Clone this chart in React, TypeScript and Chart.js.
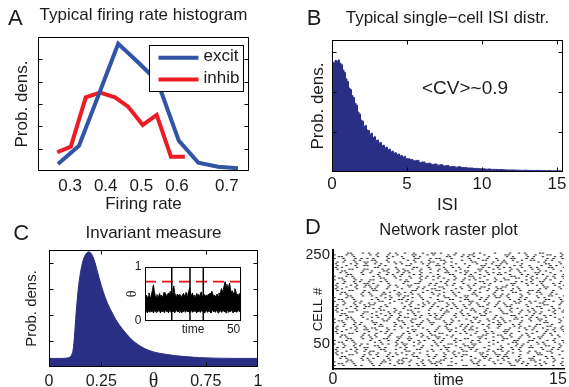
import React, { useEffect, useRef } from 'react';
import { Chart, registerables } from 'chart.js';

Chart.register(...registerables);

const SANS = "'Liberation Sans', Arial, Helvetica, sans-serif";
const SERIF = "'Liberation Serif', 'Times New Roman', serif";
const INK = '#1b1b1b';
const NAVY = '#2a2e84';
const BLUE = '#3254a6';
const RED = '#ec1c24';

Chart.defaults.font.family = SANS;
Chart.defaults.color = INK;

// ---------------- Panel A : firing rate histogram ----------------
const rateTickValues = [0.3, 0.4, 0.5, 0.6, 0.74];
const rateTickLabels = ['0.3', '0.4', '0.5', '0.6', '0.7'];
const seriesLabels = ['excit', 'inhib'];
const excitRates = [0.266, 0.325, 0.38, 0.435, 0.49, 0.545, 0.605, 0.66, 0.715, 0.771];
const excitDensity = [0.31, 1.13, 3.4, 5.7, 4.88, 4.02, 1.36, 0.37, 0.19, 0.12];
const inhibRates = [0.264, 0.302, 0.344, 0.384, 0.426, 0.463, 0.504, 0.543, 0.583, 0.622];
const inhibDensity = [0.84, 1.09, 3.3, 3.51, 3.3, 2.88, 2.06, 2.51, 0.64, 0.64];

// ---------------- Panel B : ISI distribution ----------------
const isiTickValues = [0, 5, 10, 15];
const isiTickLabels = ['0', '5', '10', '15'];
// bins of width 0.1 on [0,5)
const isiFine = [
  2.6, 2.74, 2.79, 2.76, 2.8, 2.72, 2.68, 2.55, 2.49, 2.33,
  2.26, 2.1, 2.06, 1.91, 1.86, 1.72, 1.67, 1.5, 1.45, 1.3,
  1.27, 1.14, 1.16, 1.05, 1.04, 0.94, 0.97, 0.86, 0.88, 0.79,
  0.8, 0.72, 0.74, 0.66, 0.67, 0.6, 0.62, 0.55, 0.57, 0.5,
  0.52, 0.47, 0.48, 0.43, 0.45, 0.4, 0.41, 0.37, 0.39, 0.34,
];
// bins of width 0.2 on [5,15.4)
const isiCoarse = [
  0.33, 0.31, 0.28, 0.29, 0.24, 0.25, 0.21, 0.22, 0.19, 0.2,
  0.17, 0.18, 0.15, 0.16, 0.13, 0.14, 0.12, 0.13, 0.11, 0.11,
  0.1, 0.1, 0.09, 0.09, 0.08, 0.08, 0.07, 0.075, 0.065, 0.065,
  0.06, 0.06, 0.055, 0.05, 0.05, 0.05, 0.045, 0.045, 0.04, 0.045,
  0.04, 0.04, 0.035, 0.04, 0.035, 0.035, 0.03, 0.035, 0.03, 0.03,
  0.03, 0.03,
];
const cvText = '<CV>~0.9';
const cvPos = { x: 8.87, y: 2.09 };

// ---------------- Panel C : invariant measure ----------------
const thetaTickValues = [0, 0.25, 0.75, 1];
const thetaTickLabels = ['0', '0.25', '0.75', '1'];
const thetaValues = [
  0, 0.05, 0.08, 0.1, 0.11, 0.115, 0.12, 0.125, 0.13, 0.14,
  0.15, 0.16, 0.17, 0.18, 0.19, 0.2, 0.21, 0.22, 0.23, 0.24,
  0.25, 0.26, 0.28, 0.3, 0.32, 0.34, 0.37, 0.4, 0.43, 0.46,
  0.5, 0.55, 0.6, 0.65, 0.72, 0.8, 0.9, 1.0,
];
const thetaDensity = [
  0.33, 0.33, 0.34, 0.38, 0.5, 0.65, 1.0, 1.55, 2.1, 3.0,
  3.6, 4.0, 4.25, 4.38, 4.43, 4.38, 4.25, 4.02, 3.72, 3.42,
  3.14, 2.88, 2.45, 2.12, 1.82, 1.58, 1.28, 1.02, 0.84, 0.7,
  0.58, 0.5, 0.44, 0.4, 0.36, 0.34, 0.33, 0.33,
];

// inset: theta trace (envelope per 0.5 time unit)
const insetStep = 0.5;
const insetHigh = [
  0.44, 0.48, 0.41, 0.46, 0.52, 0.45, 0.43, 0.5, 0.58, 0.67,
  0.55, 0.47, 0.44, 0.49, 0.42, 0.46, 0.51, 0.45, 0.48, 0.43,
  0.47, 0.53, 0.46, 0.5, 0.44, 0.49, 0.52, 0.47, 0.55, 0.48,
  0.5, 0.58, 0.65, 0.52, 0.47, 0.45, 0.5, 0.46, 0.49, 0.44,
  0.47, 0.43, 0.48, 0.51, 0.45, 0.49, 0.53, 0.46, 0.5, 0.55,
  0.62, 0.5, 0.47, 0.52, 0.45, 0.48, 0.44, 0.47, 0.51, 0.46,
  0.49, 0.45, 0.5, 0.54, 0.47, 0.43, 0.46, 0.49, 0.44, 0.48,
  0.45, 0.5, 0.47, 0.52, 0.49, 0.55, 0.5, 0.46, 0.48, 0.44,
  0.47, 0.5, 0.45, 0.52, 0.48, 0.55, 0.6, 0.53, 0.58, 0.66,
  0.73, 0.62, 0.68, 0.57, 0.64, 0.7, 0.59, 0.52, 0.56, 0.49,
  0.53, 0.6, 0.55, 0.48, 0.5, 0.46, 0.51, 0.47,
];
const insetLow = [
  0.17, 0.2, 0.15, 0.19, 0.18, 0.16, 0.21, 0.17, 0.19, 0.15,
  0.18, 0.2, 0.16, 0.19, 0.17, 0.21, 0.18, 0.15, 0.19, 0.17,
  0.2, 0.16, 0.18, 0.21, 0.17, 0.19, 0.15, 0.18, 0.2, 0.16,
  0.19, 0.17, 0.2, 0.15, 0.18, 0.21, 0.17, 0.19, 0.16, 0.2,
  0.18, 0.15, 0.19, 0.17, 0.21, 0.16, 0.18, 0.2, 0.17, 0.19,
  0.15, 0.18, 0.2, 0.16, 0.19, 0.17, 0.21, 0.18, 0.15, 0.19,
  0.17, 0.2, 0.16, 0.18, 0.21, 0.17, 0.19, 0.15, 0.18, 0.2,
  0.16, 0.19, 0.17, 0.2, 0.15, 0.18, 0.21, 0.17, 0.19, 0.16,
  0.2, 0.18, 0.15, 0.19, 0.17, 0.21, 0.16, 0.18, 0.2, 0.17,
  0.19, 0.15, 0.18, 0.2, 0.16, 0.19, 0.17, 0.21, 0.18, 0.15,
  0.19, 0.17, 0.2, 0.16, 0.18, 0.21, 0.17, 0.19,
];
const spikeTimes = [15.1, 25.4, 32.9];
const thresholdLevel = 0.73;
const resetLevel = 0.275;
const insetTimeMax = 54.2;

// ---------------- Panel D : raster ----------------
// each row = a group of cells (bottom row first); each char = a 0.2 time bin, 'x' = spike
const rasterRows = [
  'x..x...x.x. ..x.x....x. ...x..x.x.. .x...xx...x x...x.x.... ....xx...x. .x.x...x..x',
  '.xx...x.... .x..x..x..x x....x.x..x x.x....x... ..xx.....x. x..x...x.x. ..x.x....x.',
  'x...x.x.... .x...xx...x .x.x...x..x .xx...x.... ..x.x....x. ...x..x.x.. .x..x..x..x',
  '....xx...x. x....x.x..x x..x...x.x. ..xx.....x. .x..x..x..x .x...xx...x x.x....x...',
  '..x.x....x. x.x....x... .xx...x.... x...x.x.... ...x..x.x.. .x.x...x..x x....x.x..x',
  '..xx.....x. ...x..x.x.. ....xx...x. x..x...x.x. .x...xx...x .xx...x.... x...x.x....',
  '.x...xx...x .x.x...x..x ..x.x....x. .x..x..x..x x....x.x..x x.x....x... ..xx.....x.',
  'x.x....x... x..x...x.x. x...x.x.... ...x..x.x.. ....xx...x. ..x.x....x. .xx...x....',
  '.x..x..x..x .xx...x.... ..xx.....x. x....x.x..x x..x...x.x. .x.x...x..x .x...xx...x',
  'x....x.x..x ....xx...x. .x...xx...x ..x.x....x. .x.x...x..x x...x.x.... ...x..x.x..',
  '.x.x...x..x x...x.x.... x.x....x... ....xx...x. .xx...x.... .x..x..x..x x..x...x.x.',
  '...x..x.x.. ..xx.....x. .x..x..x..x .x.x...x..x x.x....x... x....x.x..x ....xx...x.',
  'x..x...x.x. x....x.x..x .xx...x.... .x...xx...x ..xx.....x. ...x..x.x.. ..x.x....x.',
  '.xx...x.... ..x.x....x. x...x.x.... x.x....x... .x..x..x..x ....xx...x. .x.x...x..x',
  'x...x.x.... .x..x..x..x ...x..x.x.. x..x...x.x. ..x.x....x. .x...xx...x x....x.x..x',
  '....xx...x. .x...xx...x ..xx.....x. .x.x...x..x x...x.x.... .xx...x.... x.x....x...',
  '..x.x....x. .x.x...x..x x..x...x.x. .xx...x.... ....xx...x. .x..x..x..x ..xx.....x.',
  '..xx.....x. x.x....x... x....x.x..x x...x.x.... .x...xx...x x..x...x.x. ...x..x.x..',
  '.x...xx...x ...x..x.x.. .x.x...x..x ..xx.....x. x..x...x.x. ..x.x....x. x...x.x....',
  'x.x....x... x...x.x.... ..x.x....x. x....x.x..x ...x..x.x.. .xx...x.... .x..x..x..x',
  '.x..x..x..x x..x...x.x. ....xx...x. .x...xx...x .xx...x.... ..xx.....x. x....x.x..x',
  'x....x.x..x .xx...x.... x.x....x... .x..x..x..x .x.x...x..x ...x..x.x.. x..x...x.x.',
  '.x.x...x..x ....xx...x. x...x.x.... ..x.x....x. x.x....x... x....x.x..x .x...xx...x',
  '...x..x.x.. ..x.x....x. .x...xx...x ....xx...x. x....x.x..x x...x.x.... .xx...x....',
  'x..x...x.x. ..xx.....x. .x..x..x..x x...x.x.... ..x.x....x. x.x....x... ....xx...x.',
  '.xx...x.... .x...xx...x x..x...x.x. ...x..x.x.. .x..x..x..x .x.x...x..x ..x.x....x.',
  'x...x.x.... x....x.x..x ....xx...x. .xx...x.... x..x...x.x. .x...xx...x ..xx.....x.',
  '....xx...x. .x.x...x..x .xx...x.... x.x....x... ..xx.....x. x....x.x..x .x..x..x..x',
  '..x.x....x. ...x..x.x.. x....x.x..x .x.x...x..x .x...xx...x ....xx...x. x...x.x....',
  '..xx.....x. .x..x..x..x ..x.x....x. x..x...x.x. x...x.x.... .xx...x.... x.x....x...',
  '.x...xx...x x..x...x.x. x...x.x.... ....xx...x. ...x..x.x.. .x..x..x..x .x.x...x..x',
  'x.x....x... ....xx...x. ..xx.....x. ..x.x....x. .xx...x.... x..x...x.x. x....x.x..x',
  '.x..x..x..x ..x.x....x. .x...xx...x ...x..x.x.. x.x....x... x...x.x.... x..x...x.x.',
  'x....x.x..x x...x.x.... .x.x...x..x .x..x..x..x ....xx...x. ..xx.....x. .xx...x....',
  '.x.x...x..x .xx...x.... ...x..x.x.. x....x.x..x .x..x..x..x ..x.x....x. ....xx...x.',
  '...x..x.x.. x.x....x... x..x...x.x. x...x.x.... .x.x...x..x .x...xx...x ..xx.....x.',
  'x..x...x.x. ....xx...x. ..x.x....x. ..xx.....x. .xx...x.... x....x.x..x .x..x..x..x',
  '.xx...x.... .x.x...x..x x.x....x... .x...xx...x x...x.x.... ...x..x.x.. ....xx...x.',
  'x...x.x.... ...x..x.x.. .x..x..x..x ....xx...x. x....x.x..x x..x...x.x. ..x.x....x.',
  '....xx...x. .x..x..x..x .xx...x.... .x.x...x..x x..x...x.x. x.x....x... .x...xx...x',
  '..x.x....x. .x...xx...x x...x.x.... x.x....x... ..xx.....x. .x.x...x..x ...x..x.x..',
  '..xx.....x. x....x.x..x .x.x...x..x ...x..x.x.. ..x.x....x. ....xx...x. .xx...x....',
  '.x...xx...x ..xx.....x. ....xx...x. .xx...x.... .x.x...x..x .x..x..x..x x.x....x...',
  'x.x....x... .xx...x.... x....x.x..x x..x...x.x. .x..x..x..x x...x.x.... ..x.x....x.',
  '.x..x..x..x .x.x...x..x ...x..x.x.. ..xx.....x. .x...xx...x .xx...x.... ....xx...x.',
  'x....x.x..x x..x...x.x. ..xx.....x. x...x.x.... x.x....x... ..x.x....x. .x.x...x..x',
  '.x.x...x..x x.x....x... .x...xx...x .x..x..x..x ...x..x.x.. ....xx...x. x..x...x.x.',
  '...x..x.x.. x...x.x.... .xx...x.... ..x.x....x. ....xx...x. x....x.x..x ..xx.....x.',
  'x..x...x.x. .xx...x.... x.x....x... x....x.x..x .x.x...x..x ..xx.....x. x...x.x....',
  '.xx...x.... ....xx...x. ...x..x.x.. .x.x...x..x ..x.x....x. .x...xx...x .x..x..x..x',
  'x...x.x.... ..x.x....x. x..x...x.x. x.x....x... .xx...x.... ....xx...x. x....x.x..x',
  '....xx...x. ...x..x.x.. x...x.x.... .x...xx...x .x..x..x..x x..x...x.x. .x.x...x..x',
  '..x.x....x. .x..x..x..x .x.x...x..x ....xx...x. x..x...x.x. x.x....x... .xx...x....',
  '..xx.....x. .x...xx...x .xx...x.... .x..x..x..x x...x.x.... ...x..x.x.. ..x.x....x.',
  '.x...xx...x x....x.x..x .x..x..x..x ..x.x....x. ....xx...x. x...x.x.... x.x....x...',
  'x.x....x... ..xx.....x. ....xx...x. ...x..x.x.. x....x.x..x .x.x...x..x .x...xx...x',
  '.x..x..x..x x...x.x.... ..xx.....x. .xx...x.... .x...xx...x x....x.x..x ...x..x.x..',
  'x....x.x..x ..x.x....x. x..x...x.x. .x.x...x..x ...x..x.x.. x.x....x... ....xx...x.',
  '.x.x...x..x x..x...x.x. x....x.x..x x...x.x.... ..xx.....x. .xx...x.... ..x.x....x.',
  '...x..x.x.. .xx...x.... ..x.x....x. ..xx.....x. .x...xx...x .x..x..x..x x...x.x....',
  'x..x...x.x. x.x....x... .x...xx...x .xx...x.... .x..x..x..x ....xx...x. x....x.x..x',
  '.xx...x.... ...x..x.x.. x...x.x.... ....xx...x. x.x....x... ..x.x....x. x..x...x.x.',
  'x...x.x.... .x.x...x..x ....xx...x. x....x.x..x .xx...x.... ..xx.....x. .x...xx...x',
  '....xx...x. x..x...x.x. .x..x..x..x x.x....x... ..x.x....x. ...x..x.x.. ..xx.....x.',
];
const rasterBin = 0.2;
const rasterCellsPerRow = 4;
const rasterTickValues = [0, 15];
const rasterTickLabels = ['0', '15'];
const cellTickValues = [50, 250];
const cellTickLabels = ['50', '250'];

// ---------------- helpers ----------------
const setTicks = (vals: number[]) => (scale: any) => {
  scale.ticks = vals.map((v) => ({ value: v }));
};
const zeroPad = (s: any) => {
  s.paddingLeft = 0;
  s.paddingRight = 0;
  s.paddingTop = 0;
  s.paddingBottom = 0;
};
const fixWidth = (w: number) => (s: any) => {
  s.width = w;
  zeroPad(s);
};
const fixHeight = (h: number) => (s: any) => {
  s.height = h;
  zeroPad(s);
};
const noGrid = { display: false, drawTicks: false };
const f = (size: number, family: string = SANS) => ({ size, family, weight: 'normal' });

const matlabBox = {
  id: 'matlabBox',
  afterDatasetsDraw(chart: any, _a: any, o: any) {
    if (!o || !o.on) return;
    const { ctx, chartArea, scales } = chart;
    const l = Math.round(chartArea.left) + 0.5;
    const r = Math.round(chartArea.right) - 0.5;
    const t = Math.round(chartArea.top) + 0.5;
    const b = Math.round(chartArea.bottom) - 0.5;
    const len = o.len || 4;
    ctx.save();
    ctx.strokeStyle = '#000';
    ctx.lineWidth = 1;
    ctx.strokeRect(l, t, r - l, b - t);
    ctx.beginPath();
    if (o.yTicks) {
      scales.y.ticks.forEach((tk: any) => {
        const p = Math.round(scales.y.getPixelForValue(tk.value)) + 0.5;
        if (p <= t + 1 || p >= b - 1) return;
        ctx.moveTo(l, p);
        ctx.lineTo(l + len, p);
        ctx.moveTo(r, p);
        ctx.lineTo(r - len, p);
      });
    }
    if (o.xTicks) {
      scales.x.ticks.forEach((tk: any) => {
        const p = Math.round(scales.x.getPixelForValue(tk.value)) + 0.5;
        if (p <= l + 1 || p >= r - 1) return;
        ctx.moveTo(p, t);
        ctx.lineTo(p, t + len);
        ctx.moveTo(p, b);
        ctx.lineTo(p, b - len);
      });
    }
    ctx.stroke();
    ctx.restore();
  },
};

const boxLegend = {
  id: 'boxLegend',
  afterDatasetsDraw(chart: any, _a: any, o: any) {
    if (!o || !o.on) return;
    const { ctx, chartArea } = chart;
    const x0 = Math.round(chartArea.right - o.right - o.width) + 0.5;
    const y0 = Math.round(chartArea.top + o.top) + 0.5;
    ctx.save();
    ctx.fillStyle = '#fff';
    ctx.fillRect(x0, y0, o.width, o.height);
    ctx.strokeStyle = '#000';
    ctx.lineWidth = 1;
    ctx.strokeRect(x0, y0, o.width, o.height);
    chart.data.datasets.forEach((ds: any, i: number) => {
      const y = y0 + o.rowTop + i * o.rowGap;
      ctx.strokeStyle = ds.borderColor;
      ctx.lineWidth = ds.borderWidth;
      ctx.lineCap = 'butt';
      ctx.beginPath();
      ctx.moveTo(x0 + o.lineStart, y);
      ctx.lineTo(x0 + o.lineStart + o.lineLen, y);
      ctx.stroke();
      ctx.fillStyle = INK;
      ctx.font = `${o.fontSize}px ${SANS}`;
      ctx.textAlign = 'left';
      ctx.textBaseline = 'middle';
      ctx.fillText(ds.label, x0 + o.textStart, y - 1);
    });
    ctx.restore();
  },
};

const textMark = {
  id: 'textMark',
  afterDatasetsDraw(chart: any, _a: any, o: any) {
    if (!o || !o.text) return;
    const { ctx, scales } = chart;
    ctx.save();
    ctx.font = `${o.size}px ${SANS}`;
    ctx.fillStyle = INK;
    ctx.textAlign = 'center';
    ctx.textBaseline = 'middle';
    ctx.fillText(o.text, scales.x.getPixelForValue(o.x), scales.y.getPixelForValue(o.y));
    ctx.restore();
  },
};

const baseOptions = (padding: any, title: any) => ({
  responsive: false,
  animation: false,
  devicePixelRatio: 1,
  events: [],
  layout: { padding },
  plugins: {
    legend: { display: false },
    tooltip: { enabled: false },
    title: { display: true, fullSize: false, color: INK, ...title },
  },
});

// ---------------- configs ----------------
const configA = () => {
  const opts: any = baseOptions(
    { left: 8, top: 5.3, right: 41, bottom: 1 },
    { text: 'Typical firing rate histogram', font: f(17), padding: { top: 0, bottom: 11.3 } }
  );
  opts.plugins.matlabBox = { on: true, yTicks: true, xTicks: false, len: 4 };
  opts.plugins.boxLegend = {
    on: true, right: 6, top: 8, width: 94, height: 46,
    rowTop: 12.3, rowGap: 21.7, lineStart: 9, lineLen: 40, textStart: 54, fontSize: 17,
  };
  opts.scales = {
    x: {
      type: 'linear', min: 0.21, max: 0.802, bounds: 'data',
      afterBuildTicks: setTicks(rateTickValues), afterFit: fixHeight(44),
      grid: noGrid, border: { display: false },
      ticks: { font: f(17), padding: 5.5, color: INK, autoSkip: false, maxRotation: 0, callback: (_v: any, i: number) => rateTickLabels[i] },
      title: { display: true, text: 'Firing rate', font: f(17), color: INK, padding: { top: 0, bottom: 0 } },
    },
    y: {
      type: 'linear', min: 0, max: 6, bounds: 'data',
      afterBuildTicks: setTicks([1, 2, 3, 4, 5]), afterFit: fixWidth(30),
      grid: noGrid, border: { display: false }, ticks: { display: false },
      title: { display: true, text: 'Prob. dens.', font: f(17), color: INK, padding: { top: 4, bottom: 0 } },
    },
  };
  return {
    type: 'line',
    data: {
      datasets: [
        { label: seriesLabels[0], data: excitRates.map((x, i) => ({ x, y: excitDensity[i] })), borderColor: BLUE, backgroundColor: BLUE, borderWidth: 4, pointRadius: 0, tension: 0, fill: false },
        { label: seriesLabels[1], data: inhibRates.map((x, i) => ({ x, y: inhibDensity[i] })), borderColor: RED, backgroundColor: RED, borderWidth: 4, pointRadius: 0, tension: 0, fill: false },
      ],
    },
    options: opts,
    plugins: [matlabBox, boxLegend],
  };
};

const configB = () => {
  const opts: any = baseOptions(
    { left: 14, top: 8.6, right: 6, bottom: 0 },
    { text: 'Typical single\u2212cell ISI distr.', font: f(17), padding: { top: 0, bottom: 11 } }
  );
  opts.plugins.matlabBox = { on: true, yTicks: true, xTicks: true, len: 4 };
  opts.plugins.textMark = { text: cvText, x: cvPos.x, y: cvPos.y, size: 19 };
  opts.scales = {
    x: {
      type: 'linear', min: 0, max: 15.4, bounds: 'data',
      afterBuildTicks: setTicks(isiTickValues), afterFit: fixHeight(44),
      grid: noGrid, border: { display: false },
      ticks: { font: f(17), padding: 1.8, color: INK, autoSkip: false, maxRotation: 0, callback: (_v: any, i: number) => isiTickLabels[i] },
      title: { display: true, text: 'ISI', font: f(17), color: INK, padding: { top: 0, bottom: 0.8 } },
    },
    y: {
      type: 'linear', min: 0, max: 3.3, bounds: 'data',
      afterBuildTicks: setTicks([1, 2, 3]), afterFit: fixWidth(28),
      grid: noGrid, border: { display: false }, ticks: { display: false },
      title: { display: true, text: 'Prob. dens.', font: f(17), color: INK, padding: { top: 4, bottom: 0 } },
    },
  };
  const pts = [
    ...isiFine.map((v, i) => ({ x: 0.05 + i * 0.1, y: v })),
    ...isiCoarse.map((v, i) => ({ x: 5.1 + i * 0.2, y: v })),
  ];
  return {
    type: 'line',
    data: {
      datasets: [
        { data: pts, borderColor: NAVY, backgroundColor: NAVY, borderWidth: 1, pointRadius: 0, stepped: 'middle', fill: 'origin' },
      ],
    },
    options: opts,
    plugins: [matlabBox, textMark],
  };
};

const configC = () => {
  const opts: any = baseOptions(
    { left: 19, top: 5.2, right: 32, bottom: 0 },
    { text: 'Invariant measure', font: f(17), padding: { top: 0, bottom: 6.4 } }
  );
  opts.plugins.matlabBox = { on: true, yTicks: true, xTicks: true, len: 4 };
  opts.scales = {
    x: {
      type: 'linear', min: 0, max: 1, bounds: 'data',
      afterBuildTicks: setTicks(thetaTickValues), afterFit: fixHeight(20),
      grid: noGrid, border: { display: false },
      ticks: { font: f(16), padding: 5.1, color: INK, autoSkip: false, maxRotation: 0, callback: (_v: any, i: number) => thetaTickLabels[i] },
      title: { display: true, text: '\u03b8', font: f(20, SERIF), color: INK, padding: { top: 0, bottom: -6.7 } },
    },
    y: {
      type: 'linear', min: 0, max: 4.5, bounds: 'data',
      afterBuildTicks: setTicks([1, 2, 3, 4]), afterFit: fixWidth(30),
      grid: noGrid, border: { display: false }, ticks: { display: false },
      title: { display: true, text: 'Prob. dens.', font: f(15), color: INK, padding: { top: 4, bottom: 0 } },
    },
  };
  return {
    type: 'line',
    data: {
      datasets: [
        { data: thetaValues.map((x, i) => ({ x, y: thetaDensity[i] })), borderColor: NAVY, backgroundColor: NAVY, borderWidth: 1, pointRadius: 0, cubicInterpolationMode: 'monotone', fill: 'origin' },
      ],
    },
    options: opts,
    plugins: [matlabBox],
  };
};

const configInset = () => {
  const opts: any = baseOptions({ left: 2.7, top: 9, right: 4, bottom: 0 }, { text: '' });
  opts.plugins.title = { display: false };
  opts.plugins.matlabBox = { on: true, yTicks: false, xTicks: false };
  opts.scales = {
    x: {
      type: 'linear', min: 0, max: insetTimeMax, bounds: 'data',
      afterBuildTicks: setTicks([50]), afterFit: fixHeight(17),
      grid: noGrid, border: { display: false },
      ticks: { font: f(12), padding: 1.8, color: INK, autoSkip: false, maxRotation: 0, callback: () => '50' },
      title: { display: true, text: 'time', font: f(12), color: INK, padding: { top: 0, bottom: 0.8 } },
    },
    y: {
      type: 'linear', min: 0, max: 1, bounds: 'data',
      afterBuildTicks: setTicks([0, 1]), afterFit: fixWidth(22.3),
      grid: noGrid, border: { display: false },
      ticks: { font: f(12), padding: 3.5, color: INK, autoSkip: false, callback: (_v: any, i: number) => ['0', '1'][i] },
      title: { display: true, text: '\u03b8', font: f(15, SERIF), color: INK, padding: { top: 0, bottom: 0 } },
    },
  };
  const hi = insetHigh.map((v, i) => ({ x: insetStep / 2 + i * insetStep, y: v }));
  const lo = insetLow.map((v, i) => ({ x: insetStep / 2 + i * insetStep, y: v }));
  const spikes: any[] = [];
  spikeTimes.forEach((t) => {
    spikes.push({ x: t, y: 0 }, { x: t, y: 1 }, { x: t, y: null });
  });
  return {
    type: 'line',
    data: {
      datasets: [
        { data: hi, borderColor: '#000', backgroundColor: '#000', borderWidth: 1, pointRadius: 0, fill: '+1' },
        { data: lo, borderColor: '#000', backgroundColor: '#000', borderWidth: 1, pointRadius: 0, fill: false },
        { data: spikes, borderColor: '#000', borderWidth: 1.5, pointRadius: 0, fill: false, spanGaps: false },
        { data: [{ x: 0, y: thresholdLevel }, { x: insetTimeMax, y: thresholdLevel }], borderColor: '#f01010', borderWidth: 1.6, borderDash: [11, 6], pointRadius: 0, fill: false },
        { data: [{ x: 0, y: resetLevel }, { x: insetTimeMax, y: resetLevel }], borderColor: RED, borderWidth: 2, pointRadius: 0, fill: false },
      ],
    },
    options: opts,
    plugins: [matlabBox],
  };
};

const configD = () => {
  const opts: any = baseOptions(
    { left: 16.5, top: 2.8, right: 5, bottom: 0 },
    { text: 'Network raster plot', font: f(16.5), padding: { top: 0, bottom: 9.4 } }
  );
  opts.scales = {
    x: {
      type: 'linear', min: 0, max: 15.4, bounds: 'data',
      afterBuildTicks: setTicks(rasterTickValues), afterFit: fixHeight(18),
      grid: noGrid, border: { display: true, color: '#000', width: 1.5 },
      ticks: { font: f(16), padding: 1.4, color: INK, autoSkip: false, maxRotation: 0, callback: (_v: any, i: number) => rasterTickLabels[i] },
      title: { display: true, text: 'time', font: f(16), color: INK, padding: { top: 0, bottom: -3.6 } },
    },
    y: {
      type: 'linear', min: -6, max: 261, bounds: 'data',
      afterBuildTicks: setTicks(cellTickValues), afterFit: fixWidth(26.5),
      grid: noGrid, border: { display: true, color: '#000', width: 2 },
      ticks: { font: f(15), padding: 3, color: INK, autoSkip: false, callback: (_v: any, i: number) => cellTickLabels[i] },
      title: { display: true, text: 'CELL #', font: f(13), color: INK, padding: { top: 4, bottom: 0 } },
    },
  };
  const pts: any[] = [];
  rasterRows.forEach((row, r) => {
    row.replace(/ /g, '').split('').forEach((ch, c) => {
      if (ch === 'x') pts.push({ x: rasterBin / 2 + c * rasterBin + (r % 2) * (rasterBin / 2), y: 2 + r * rasterCellsPerRow });
    });
  });
  return {
    type: 'scatter',
    data: {
      datasets: [
        { data: pts, pointStyle: 'line', pointRadius: 1.2, borderWidth: 1, borderColor: '#262626', backgroundColor: '#262626' },
      ],
    },
    options: opts,
  };
};

type Rect = { left: number; top: number; width: number; height: number };

function ChartCanvas({ rect, make, z = 1 }: { rect: Rect; make: () => any; z?: number }) {
  const ref = useRef<HTMLCanvasElement>(null);
  useEffect(() => {
    const chart = new Chart(ref.current as HTMLCanvasElement, make());
    return () => chart.destroy();
  }, []);
  return (
    <canvas
      ref={ref}
      width={rect.width}
      height={rect.height}
      style={{ position: 'absolute', left: rect.left, top: rect.top, width: rect.width, height: rect.height, display: 'block', zIndex: z }}
    />
  );
}

const letterStyle = (left: number, top: number): React.CSSProperties => ({
  position: 'absolute', left, top, fontFamily: SANS, fontSize: 22, lineHeight: '22px', color: INK, zIndex: 5,
});

export default function App() {
  return (
    <div style={{ position: 'fixed', left: 0, top: 0, width: 569, height: 387, background: '#fff', overflow: 'hidden' }}>
      <ChartCanvas rect={{ left: 0, top: 0, width: 290, height: 216 }} make={configA} />
      <ChartCanvas rect={{ left: 290, top: 0, width: 279, height: 216 }} make={configB} />
      <ChartCanvas rect={{ left: 0, top: 218, width: 290, height: 169 }} make={configC} />
      <ChartCanvas rect={{ left: 120, top: 258, width: 125, height: 80 }} make={configInset} z={2} />
      <ChartCanvas rect={{ left: 290, top: 218, width: 279, height: 169 }} make={configD} />
      <div style={letterStyle(8, 6.5)}>A</div>
      <div style={letterStyle(306.7, 7)}>B</div>
      <div style={letterStyle(13.3, 222)}>C</div>
      <div style={letterStyle(305, 215.5)}>D</div>
    </div>
  );
}
